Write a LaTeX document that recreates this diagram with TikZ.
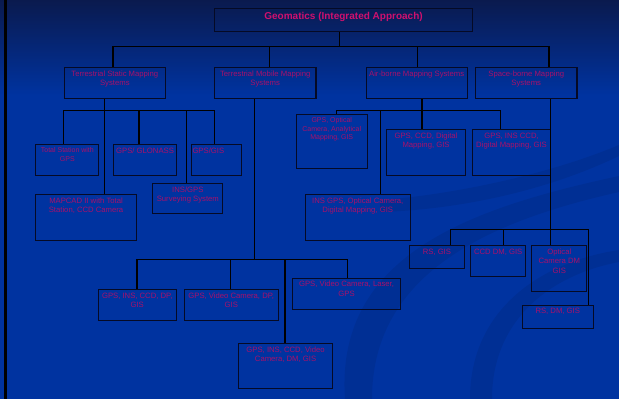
\documentclass[tikz,border=0pt]{standalone}
\usepackage{fontspec}
\setmainfont{Liberation Sans}
\definecolor{bgtop}{HTML}{0A1A4E}
\definecolor{bgmain}{HTML}{0033A0}
\definecolor{txt}{HTML}{A8106A}
\definecolor{ttl}{HTML}{D0106E}
\definecolor{edge}{HTML}{050A25}
\tikzset{
  box/.style={draw=edge, line width=1.1pt, rectangle, inner sep=0pt, anchor=north west},
  lbl/.style={text=txt, font=\fontsize{7.7}{9.5}\selectfont, align=center, inner sep=0pt},
  small/.style={font=\fontsize{7.0}{8.3}\selectfont},
  conn/.style={draw=black, line width=1.1pt},
  swoosh/.style={fill=black, opacity=0.07},
}
\newcommand\mybox[7][]{%
  \node[box, minimum width={(#5-#3)*1pt}, minimum height={(#6-#4)*1pt}] (#2) at (#3,#4) {};
  \node[lbl, anchor=north, #1] (#2-t) at ([yshift=-3.3pt]#2.north) {#7};
}
\begin{document}
\begin{tikzpicture}[x=1pt, y=-1pt]
\useasboundingbox (0,0) rectangle (619,399);
% background
\fill[bgmain] (0,0) rectangle (619,399);
\shade[top color=bgtop, bottom color=bgmain] (0,0) rectangle (619,95);
\fill[swoosh] (345,399) .. controls (335,255) and (470,208) .. (619,176)
  -- (619,192) .. controls (485,222) and (372,275) .. (372,399) -- cycle;
\fill[swoosh] (380,200) .. controls (440,196) and (540,178) .. (619,145)
  -- (619,156) .. controls (540,194) and (450,210) .. (380,212) -- cycle;
\fill[swoosh] (470,399) .. controls (470,310) and (540,262) .. (619,250)
  -- (619,262) .. controls (550,275) and (492,320) .. (492,399) -- cycle;
\fill[black] (3.5,0) rectangle (6.5,399);

% title
\node[box, minimum width=258pt, minimum height=23.5pt] (top) at (214,7.5) {};
\node[text=ttl, font=\fontsize{10}{12}\selectfont\bfseries, inner sep=0pt, anchor=north]
  (top-t) at ([yshift=-4.6pt]top.north) {Geomatics (Integrated Approach)};

% level 2
\mybox{tsms}{63.6}{67.3}{165}{98}{Terrestrial Static Mapping\\Systems}
\mybox{tmms}{214}{67.3}{315.4}{98}{Terrestrial Mobile Mapping\\Systems}
\mybox{air}{365.6}{67.3}{466.6}{98}{Air-borne Mapping Systems}
\mybox{space}{475}{67.3}{576.4}{98}{Space-borne Mapping\\Systems}

% terrestrial static
\mybox[small]{ts}{35.3}{144.3}{98.3}{175.3}{Total Station with\\GPS}
\mybox{glonass}{113.3}{144.3}{175.7}{175.3}{GPS/ GLONASS}
\node[box, minimum width=49.4pt, minimum height=31pt] (gpsgis) at (191.3,144.3) {};
\node[lbl, anchor=north west] (gpsgis-t) at ([xshift=1pt,yshift=-3.3pt]gpsgis.north west) {GPS/GIS};
\mybox{insgps}{152.3}{183.3}{222.3}{213.3}{INS/GPS\\Surveying System}
\mybox{mapcad}{35.3}{194.3}{135.7}{240}{MAPCAD II with Total\\Station, CCD Camera}

% terrestrial mobile
\mybox{c1}{97.7}{289.3}{175.7}{320.3}{GPS, INS, CCD, DP,\\GIS}
\mybox{c2}{183.7}{289.3}{277.7}{320.3}{GPS, Video Camera, DP,\\GIS}
\mybox{c3}{292.3}{277.7}{399.7}{308.7}{GPS, Video Camera, Laser,\\GPS}
\mybox{c4}{238.3}{343.3}{331.7}{388.3}{GPS, INS, CCD, Video\\Camera, DM, GIS}

% air-borne
\mybox[small]{a1}{295.7}{114.3}{366.7}{167.7}{GPS, Optical\\Camera, Analytical\\Mapping, GIS}
\mybox{a2}{386.3}{129.3}{464.7}{175.3}{GPS, CCD, Digital\\Mapping, GIS}
\mybox{a3}{471.7}{129.3}{550.3}{175.3}{GPS, INS CCD,\\Digital Mapping, GIS}
\mybox{a4}{304.7}{194.3}{409.7}{240}{INS GPS, Optical Camera,\\Digital Mapping, GIS}

% space-borne
\mybox{s1}{409}{245.3}{463.7}{268.3}{RS, GIS}
\mybox{s2}{470.3}{245.3}{525}{276}{CCD DM, GIS}
\mybox{s3}{531.3}{245.3}{586.3}{291.3}{Optical\\Camera DM\\GIS}
\mybox{s4}{521.7}{304.7}{592.7}{327.7}{RS, DM, GIS}

% connectors: level 1
\coordinate (jTop) at (339.5,46.3);
\coordinate (jA1) at (113,46.3);
\coordinate (jA2) at (269.6,46.3);
\coordinate (jA3) at (417.5,46.3);
\coordinate (jA4) at (549,46.3);
\draw[conn] (top.south -| jTop) -- (jTop);
\draw[conn] (jA1) -- (jA4);
\foreach \j/\b in {jA1/tsms, jA2/tmms, jA3/air, jA4/space}
  \draw[conn] (\j) -- (\b.north -| \j);

% terrestrial static
\coordinate (jB0) at (104.4,110.3);
\coordinate (jB1) at (63.3,110.3);
\coordinate (jB2) at (139,110.3);
\coordinate (jB3) at (186.7,110.3);
\coordinate (jB4) at (214.3,110.3);
\draw[conn] (tsms.south -| jB0) -- (mapcad.north -| jB0);
\draw[conn] (jB1) -- (jB4);
\foreach \j/\b in {jB1/ts, jB2/glonass, jB3/insgps, jB4/gpsgis}
  \draw[conn] (\j) -- (\b.north -| \j);

% terrestrial mobile
\coordinate (jC0) at (254.3,259.3);
\coordinate (jC1) at (137,259.3);
\coordinate (jC2) at (230.3,259.3);
\coordinate (jC3) at (285,259.3);
\coordinate (jC4) at (347.3,259.3);
\draw[conn] (tmms.south -| jC0) -- (jC0);
\draw[conn] (jC1) -- (jC4);
\foreach \j/\b in {jC1/c1, jC2/c2, jC3/c4, jC4/c3}
  \draw[conn] (\j) -- (\b.north -| \j);

% air-borne
\coordinate (jD0) at (422,110.3);
\coordinate (jD1) at (336.3,110.3);
\coordinate (jD2) at (380.7,110.3);
\coordinate (jD4) at (500.3,110.3);
\draw[conn] (air.south -| jD0) -- (a2.north -| jD0);
\draw[conn] (jD1) -- (jD4);
\foreach \j/\b in {jD1/a1, jD2/a4, jD4/a3}
  \draw[conn] (\j) -- (\b.north -| \j);

% space-borne
\coordinate (jE0) at (550.3,229.3);
\coordinate (jE1) at (450.3,229.3);
\coordinate (jE2) at (503.7,229.3);
\coordinate (jE4) at (588.7,229.3);
\draw[conn] (space.south -| jE0) -- (s3.north -| jE0);
\draw[conn] (jE1) -- (jE4);
\foreach \j/\b in {jE1/s1, jE2/s2, jE4/s4}
  \draw[conn] (\j) -- (\b.north -| \j);
\end{tikzpicture}
\end{document}
